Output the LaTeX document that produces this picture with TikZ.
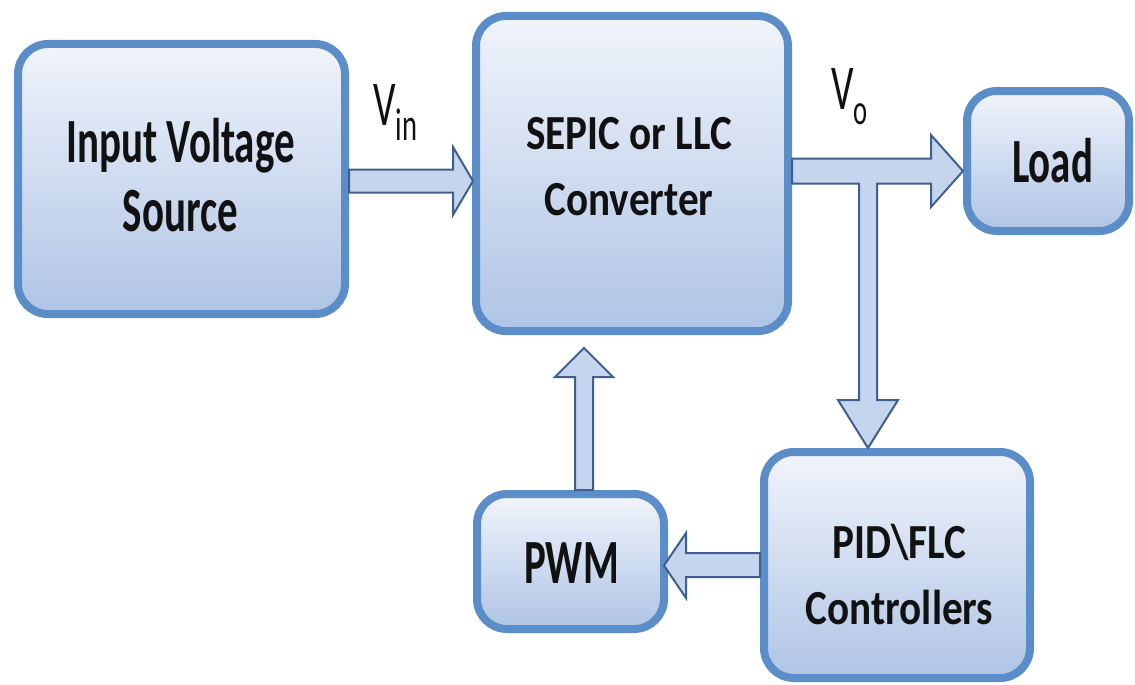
\documentclass[tikz,border=0pt]{standalone}
\usepackage{fontspec}
\usetikzlibrary{calc}
\setmainfont{Carlito}
\newfontfamily\bigfont[FakeStretch=0.65]{Carlito Bold}
\newfontfamily\medfont[FakeStretch=0.84]{Carlito Bold}
\definecolor{boxborder}{HTML}{5B8EC8}
\definecolor{boxtop}{HTML}{F0F4FB}
\definecolor{boxbot}{HTML}{AFC4E5}
\definecolor{arrfill}{HTML}{C6D5EE}
\definecolor{arrline}{HTML}{3F5F8F}
\definecolor{txt}{HTML}{111111}
\tikzset{
  blk/.style={draw=boxborder, line width=8pt, rounded corners=30pt,
    top color=boxtop, bottom color=boxbot, inner sep=0pt},
  bigtxt/.style={align=center, text=txt, inner sep=0pt,
    font=\bigfont\fontsize{63}{69}\selectfont},
  medtxt/.style={align=center, text=txt, inner sep=0pt,
    font=\medfont\fontsize{49}{66}\selectfont},
  barrow/.style={draw=arrline, fill=arrfill, line width=2pt, line join=miter},
  lbl/.style={anchor=base west, inner sep=0pt, text=txt}
}
\begin{document}
\begin{tikzpicture}[x=1pt,y=-1pt]
\useasboundingbox (0,0) rectangle (1135,685);
\fill[white] (0,0) rectangle (1135,685);
% boxes
\node[blk, minimum width=327pt, minimum height=270pt] (in) at (181.5,179) {};
\node[blk, minimum width=312pt, minimum height=315pt] (sep) at (632,173.5) {};
\node[blk, minimum width=162pt, minimum height=140pt] (load) at (1048,161) {};
\node[blk, minimum width=187pt, minimum height=135pt] (pwm) at (570.5,561.5) {};
\node[blk, minimum width=266pt, minimum height=226pt] (pid) at (897,565) {};
% box texts
\node[bigtxt] (intxt) at ($(in.center)+(-1,-3.5)$) {Input Voltage\\Source};
\node[medtxt] (septxt) at ($(sep.center)+(-3,-7)$) {SEPIC or LLC\\Converter};
\node[bigtxt, anchor=base] (loadtxt) at ($(load.center)+(4.5,21)$) {Load};
\node[bigtxt, anchor=base] (pwmtxt) at ($(pwm.center)+(1,21.5)$) {PWM};
\node[medtxt] (pidtxt) at ($(pid.center)+(2.5,9)$) {PID\textbackslash FLC\\Controllers};
% labels
\node[lbl] (vin) at (373,125) {\scalebox{0.62}[1]{\fontsize{64}{70}\selectfont V\raisebox{-15pt}{\fontsize{46}{50}\selectfont in}}};
\node[lbl] (vo) at (831,110) {\scalebox{0.62}[1]{\fontsize{64}{70}\selectfont V\raisebox{-15pt}{\fontsize{43}{50}\selectfont o}}};
% Vin arrow
\draw[barrow] ($(in.east)+(0,-9.5)$) -- ($(sep.west)+(-19,-4)$) -- ($(sep.west)+(-19,-26.5)$)
  -- ($(sep.west)+(1,7.5)$) -- ($(sep.west)+(-19,41.5)$) -- ($(sep.west)+(-19,19)$)
  -- ($(in.east)+(0,13.5)$) -- cycle;
% Vo T-arrow
\coordinate (voT) at ($(sep.east)+(0,-15)$);
\coordinate (voB) at ($(sep.east)+(0,10)$);
\coordinate (brL) at ($(pid.north)+(-38,-48)$);
\coordinate (brR) at ($(pid.north)+(-20,-48)$);
\coordinate (hb) at ($(load.west)+(-32,0)$);
\draw[barrow] (voT) -- (hb |- voT) -- ($(hb)+(0,-26)$) -- ($(load.west)+(0,10)$)
  -- ($(hb)+(0,46)$) -- (hb |- voB) -- (brR |- voB) -- (brR) -- ($(brR)+(21,0)$)
  -- ($(pid.north)+(-29,0)$) -- ($(brL)+(-21,0)$) -- (brL) -- (brL |- voB) -- (voB) -- cycle;
% PWM -> SEPIC
\draw[barrow] ($(pwm.north)+(4.5,0)$) -- ($(pwm.north)+(4.5,-113)$) -- ($(pwm.north)+(-15.5,-113)$)
  -- ($(sep.south)+(-48,13)$) -- ($(pwm.north)+(42.5,-113)$) -- ($(pwm.north)+(22.5,-113)$)
  -- ($(pwm.north)+(22.5,0)$) -- cycle;
% PID -> PWM
\draw[barrow] ($(pid.west)+(0,-12)$) -- ($(pwm.east)+(18,-8.5)$) -- ($(pwm.east)+(18,-28.5)$)
  -- ($(pwm.east)+(-4,4)$) -- ($(pwm.east)+(18,36.5)$) -- ($(pwm.east)+(18,15.5)$)
  -- ($(pid.west)+(0,12)$) -- cycle;
\end{tikzpicture}
\end{document}
